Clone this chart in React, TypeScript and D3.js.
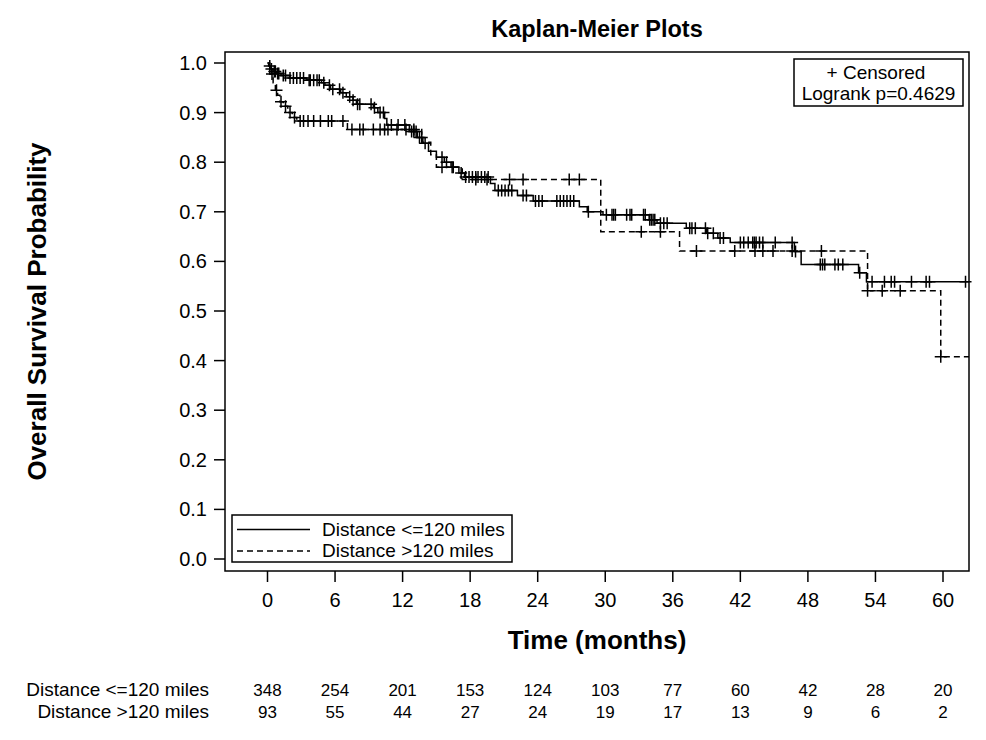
import React from 'react';
import * as d3 from 'd3';

// ---------- data ----------
const timeTicks = [0, 6, 12, 18, 24, 30, 36, 42, 48, 54, 60];
const survTicks = [0, 0.1, 0.2, 0.3, 0.4, 0.5, 0.6, 0.7, 0.8, 0.9, 1.0];
const groupNames = ['Distance <=120 miles', 'Distance >120 miles'];
const atRiskNear = [348, 254, 201, 153, 124, 103, 77, 60, 42, 28, 20];
const atRiskFar = [93, 55, 44, 27, 24, 19, 17, 13, 9, 6, 2];
const logrankP = '0.4629';

// [time (months), survival after step]
const nearSteps: [number, number][] = [
  [0, 1.0], [0.1, 0.994], [0.3, 0.988], [0.5, 0.983], [0.8, 0.979], [1.2, 0.975],
  [2.0, 0.97], [3.5, 0.965], [4.8, 0.96], [5.1, 0.955], [5.6, 0.947], [6.5, 0.94],
  [7.0, 0.932], [7.6, 0.925], [7.9, 0.917], [9.4, 0.91], [9.8, 0.9], [10.4, 0.888],
  [10.6, 0.875], [12.6, 0.862], [13.3, 0.85], [13.8, 0.838], [14.3, 0.822], [15.0, 0.81],
  [15.7, 0.8], [16.3, 0.79], [17.0, 0.778], [17.5, 0.77], [19.8, 0.757], [20.2, 0.743],
  [22.2, 0.733], [23.6, 0.722], [27.7, 0.71], [28.4, 0.7], [29.8, 0.694], [33.9, 0.684],
  [34.6, 0.677], [37.2, 0.667], [39.0, 0.657], [40.0, 0.647], [41.1, 0.638], [46.8, 0.62],
  [47.4, 0.594], [52.5, 0.577], [53.2, 0.559],
];
const nearCensor = [
  0.2, 0.35, 0.6, 0.7, 0.9, 1.0, 1.4, 1.6, 2.0, 2.3, 2.6, 2.9, 3.2, 3.7, 3.8, 4.1, 4.4, 4.6,
  5.0, 5.5, 5.8, 6.4, 6.7, 7.3, 7.6, 8.0, 8.2, 9.2, 9.5, 10.0, 10.3, 11.0, 11.6, 12.2, 12.8,
  13.0, 13.2, 13.5, 13.7, 14.0, 15.5, 15.9, 16.5, 17.2, 17.6, 17.9, 18.2, 18.5, 18.7, 19.0,
  19.3, 19.6, 20.5, 20.8, 21.1, 21.4, 21.7, 22.7, 23.0, 23.8, 24.1, 24.4, 25.7, 26.0, 26.3,
  26.6, 26.9, 27.2, 28.5, 30.1, 30.6, 30.75, 30.9, 31.9, 32.2, 32.35, 33.4, 33.55, 33.95,
  34.1, 34.25, 34.4, 34.9, 35.2, 35.5, 37.5, 37.7, 38.0, 38.9, 39.1, 39.6, 40.2, 40.5, 42.0,
  42.3, 42.7, 43.1, 43.25, 43.4, 43.7, 44.0, 45.1, 46.6, 46.9, 49.1, 49.3, 49.5, 50.4, 50.7,
  51.1, 52.6, 53.7, 54.8, 55.4, 55.7, 57.2, 58.5, 58.8, 62.0,
];
const farSteps: [number, number][] = [
  [0, 1.0], [0.2, 0.978], [0.5, 0.96], [0.7, 0.945], [0.9, 0.935], [1.1, 0.922],
  [1.4, 0.913], [1.8, 0.9], [2.2, 0.89], [2.6, 0.883], [7.1, 0.866], [13.7, 0.84],
  [14.5, 0.815], [15.0, 0.79], [17.3, 0.765], [29.6, 0.66], [36.6, 0.621], [53.3, 0.541],
  [59.8, 0.408],
];
const farCensor = [
  0.4, 0.8, 1.2, 1.6, 2.0, 2.4, 2.9, 3.2, 3.6, 4.1, 4.7, 5.4, 5.7, 6.7, 7.5, 8.2, 8.5, 9.4,
  10.0, 10.4, 10.7, 11.5, 12.3, 13.0, 15.5, 16.4, 18.5, 19.5, 21.5, 22.7, 26.8, 27.7, 33.2,
  34.9, 38.1, 41.5, 43.3, 44.0, 44.9, 46.6, 49.2, 53.3, 54.6, 56.2, 59.8,
];

// ---------- layout ----------
const W = 986;
const H = 740;
const frame = { left: 225, right: 969, top: 52, bottom: 571 };
const FONT = "'Liberation Sans', Arial, Helvetica, sans-serif";

const x = d3.scaleLinear().domain([0, 60]).range([267.5, 943]);
const y = d3.scaleLinear().domain([0, 1]).range([559, 63]);
const tEnd = x.invert(frame.right);

function survAt(steps: [number, number][], t: number) {
  let s = steps[0][1];
  for (const [ts, v] of steps) if (ts <= t) s = v;
  return s;
}

const line = d3
  .line<[number, number]>()
  .x((d) => x(d[0]))
  .y((d) => y(d[1]))
  .curve(d3.curveStepAfter);

function Curve({ steps, censor, dash }: { steps: [number, number][]; censor: number[]; dash?: string }) {
  const pts: [number, number][] = [...steps, [tEnd, steps[steps.length - 1][1]]];
  const m = 6;
  return (
    <g>
      <path d={line(pts) || ''} fill="none" stroke="#000" strokeWidth={1.5} strokeDasharray={dash} />
      {censor.map((c, i) => {
        const cx = x(c);
        const cy = y(survAt(steps, c));
        return (
          <path key={i} d={`M${cx - m},${cy}H${cx + m}M${cx},${cy - m}V${cy + m}`} stroke="#000" strokeWidth={1.5} fill="none" />
        );
      })}
    </g>
  );
}

export default function App() {
  const fmt = d3.format('.1f');
  const legendX = 232;
  const legendY = 515;
  return (
    <svg width={W} height={H} style={{ position: 'absolute', left: 0, top: 0, background: '#fff' }} fontFamily={FONT}>
      <rect x={0} y={0} width={W} height={H} fill="#fff" />
      {/* title */}
      <text x={(frame.left + frame.right) / 2} y={37} textAnchor="middle" fontSize={23.5} fontWeight="bold">
        Kaplan-Meier Plots
      </text>

      {/* frame */}
      <rect x={frame.left} y={frame.top} width={frame.right - frame.left} height={frame.bottom - frame.top} fill="none" stroke="#000" strokeWidth={1.5} />

      {/* y axis */}
      {survTicks.map((v) => (
        <g key={v}>
          <line x1={frame.left - 11} x2={frame.left} y1={y(v)} y2={y(v)} stroke="#000" strokeWidth={1.5} />
          <text x={207} y={y(v) + 7} textAnchor="end" fontSize={20}>
            {fmt(v)}
          </text>
        </g>
      ))}
      <text transform={`translate(46,${(frame.top + frame.bottom) / 2}) rotate(-90)`} textAnchor="middle" fontSize={26} fontWeight="bold">
        Overall Survival Probability
      </text>

      {/* x axis */}
      {timeTicks.map((t) => (
        <g key={t}>
          <line x1={x(t)} x2={x(t)} y1={frame.bottom} y2={frame.bottom + 11} stroke="#000" strokeWidth={1.5} />
          <text x={x(t)} y={607} textAnchor="middle" fontSize={20}>
            {t}
          </text>
        </g>
      ))}
      <text x={(frame.left + frame.right) / 2} y={649} textAnchor="middle" fontSize={26} fontWeight="bold">
        Time (months)
      </text>

      {/* curves */}
      <Curve steps={nearSteps} censor={nearCensor} />
      <Curve steps={farSteps} censor={farCensor} dash="6,4" />

      {/* legend */}
      <rect x={legendX} y={legendY} width={280} height={47} fill="#fff" stroke="#000" strokeWidth={1.5} />
      <line x1={legendX + 5} x2={legendX + 78} y1={legendY + 14.5} y2={legendY + 14.5} stroke="#000" strokeWidth={1.5} />
      <line x1={legendX + 5} x2={legendX + 78} y1={legendY + 36} y2={legendY + 36} stroke="#000" strokeWidth={1.5} strokeDasharray="6,4" />
      <text x={legendX + 90} y={legendY + 20.5} fontSize={19}>{groupNames[0]}</text>
      <text x={legendX + 90} y={legendY + 42} fontSize={19}>{groupNames[1]}</text>

      {/* censored / logrank box */}
      <rect x={794} y={59} width={169} height={47} fill="#fff" stroke="#000" strokeWidth={1.5} />
      <text x={876} y={79} textAnchor="middle" fontSize={19}>+ Censored</text>
      <text x={878.5} y={100} textAnchor="middle" fontSize={19}>{`Logrank p=${logrankP}`}</text>

      {/* at-risk table */}
      <text x={209} y={696} textAnchor="end" fontSize={19}>{groupNames[0]}</text>
      <text x={209} y={718} textAnchor="end" fontSize={19}>{groupNames[1]}</text>
      {timeTicks.map((t, i) => (
        <g key={'r' + t}>
          <text x={x(t)} y={696} textAnchor="middle" fontSize={17}>{atRiskNear[i]}</text>
          <text x={x(t)} y={718} textAnchor="middle" fontSize={17}>{atRiskFar[i]}</text>
        </g>
      ))}
    </svg>
  );
}
